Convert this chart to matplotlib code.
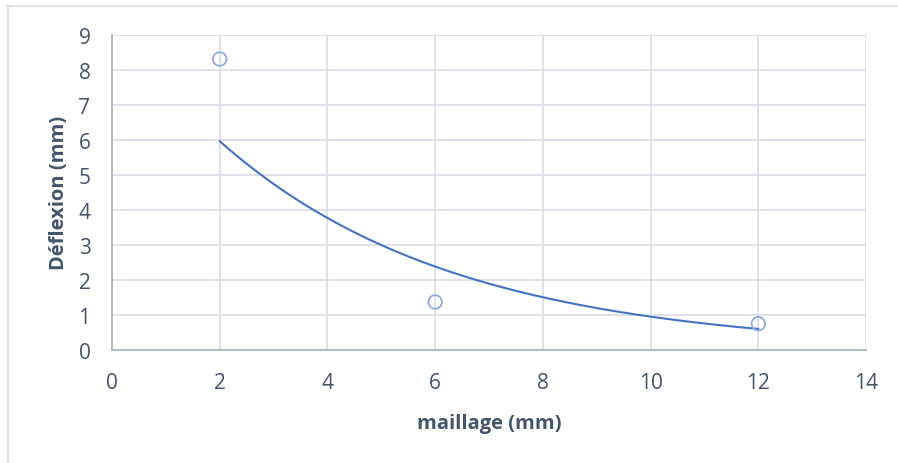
import numpy as np
import matplotlib
matplotlib.use("Agg")
import matplotlib.pyplot as plt
from matplotlib.lines import Line2D

# Mesh size vs. measured deflection
maillage = [2, 6, 12]
deflexion = [8.3, 1.37, 0.75]

x_ticks = [0, 2, 4, 6, 8, 10, 12, 14]
y_ticks = [0, 1, 2, 3, 4, 5, 6, 7, 8, 9]

text_col = "#44546a"
grid_col = "#d9dde6"
spine_col = "#a9b4c6"
marker_col = "#8faadc"
trend_col = "#4472c4"

plt.rcParams["font.family"] = ["Open Sans", "DejaVu Sans"]

fig = plt.figure(figsize=(8.98, 4.64), dpi=100)
ax = fig.add_axes([112 / 898, 1 - 351 / 464, (866 - 112) / 898, (351 - 35.5) / 464])

# Exponential trendline fitted to the data (least squares on log values)
b, ln_a = np.polyfit(maillage, np.log(deflexion), 1)
xs = np.linspace(min(maillage), max(maillage), 200)
ax.plot(xs, np.exp(ln_a) * np.exp(b * xs), color=trend_col, lw=1.5, zorder=3)

ax.scatter(maillage, deflexion, s=95, facecolors="none", edgecolors=marker_col,
           linewidths=1.3, zorder=4)

ax.set_xlim(0, 14)
ax.set_ylim(0, 9)
ax.set_xticks(x_ticks)
ax.set_yticks(y_ticks)
ax.grid(True, color=grid_col, lw=1.2)
ax.set_axisbelow(True)
for side in ["top", "right"]:
    ax.spines[side].set_visible(False)
for side in ["left", "bottom"]:
    ax.spines[side].set_color(spine_col)
    ax.spines[side].set_linewidth(1.3)
ax.tick_params(length=0, labelsize=15, colors=text_col)
ax.tick_params(axis="x", pad=16)
ax.tick_params(axis="y", pad=15.5)

ax.set_xlabel("maillage (mm)", fontsize=14.5, fontweight="bold", color=text_col, labelpad=14)
ax.set_ylabel("Déflexion (mm)", fontsize=14.5, fontweight="bold", color=text_col, labelpad=7)

# Chart frame (top and left edges)
fig.add_artist(Line2D([7 / 898, 1], [1 - 6.5 / 464] * 2, color="#dde1e8", lw=1.5,
                      transform=fig.transFigure))
fig.add_artist(Line2D([7.5 / 898] * 2, [0, 1 - 6.5 / 464], color="#dde1e8", lw=1.5,
                      transform=fig.transFigure))

fig.savefig("out.png", dpi=100, facecolor="white")
